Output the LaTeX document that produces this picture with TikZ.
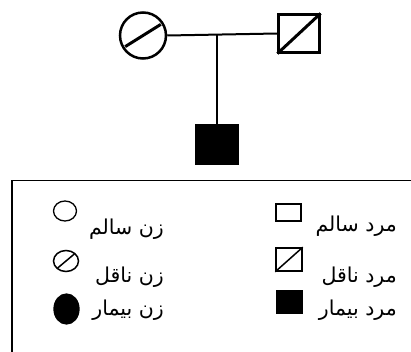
\documentclass[tikz,border=0pt]{standalone}
\usepackage{fontspec}
\usetikzlibrary{shapes.geometric,calc}
\newfontfamily\arabicfont[Script=Arabic]{DejaVu Sans}
\TeXXeTstate=1
\begin{document}
\begin{tikzpicture}[x=1pt,y=-1pt,
  pedline/.style={line width=2pt},
  female/.style={circle,draw,inner sep=0pt,minimum size=46pt,line width=2.5pt},
  male/.style={rectangle,draw,inner sep=0pt,minimum width=41pt,minimum height=38pt,line width=2.2pt},
  lfem/.style={ellipse,draw,inner sep=0pt,line width=1.3pt},
  lmale/.style={rectangle,draw,inner sep=0pt,line width=1.3pt},
  lab/.style={anchor=east,inner sep=0pt,font=\arabicfont\fontsize{20.5}{24}\selectfont},
]
\clip (0,0) rectangle (411,352);
\fill[white] (0,0) rectangle (411,352);
% pedigree
\node[female] (mother) at (143,35.5) {};
\draw[line width=3pt] ($(mother.center)+(148:21)$) -- ($(mother.center)+(328:21)$);
\node[male] (father) at (299,33.5) {};
\draw[line width=3pt] (father.south west) -- (father.north east);
\node[male,fill=black] (child) at (217,144.5) {};
\coordinate (mid) at (217,34.5);
\draw[pedline] (mother.east) -- (father.west);
\draw[pedline] (mid) -- (child.north);
% legend box
\node[draw,line width=1.5pt,rectangle,minimum width=420pt,minimum height=190pt,anchor=north west,inner sep=0pt] (box) at (11,180) {};
% female legend
\node[lfem,minimum width=23pt,minimum height=20pt] (fh) at (65,211) {};
\node[lfem,minimum width=25pt,minimum height=21pt,line width=1.5pt] (fc) at (66,261) {};
\draw[line width=1.5pt] ($(fc.center)+(140:11)$) -- ($(fc.center)+(320:11)$);
\node[lfem,fill=black,minimum width=25pt,minimum height=30pt] (fa) at (66.5,309) {};
\node[lab] (tfh) at (164,229) {\beginR زن سالم\endR};
\node[lab] (tfc) at (164,277) {\beginR زن ناقل\endR};
\node[lab] (tfa) at (164,310) {\beginR زن بیمار\endR};
% male legend
\node[lmale,minimum width=25pt,minimum height=17pt] (mh) at (288.5,212.5) {};
\node[lmale,minimum width=26pt,minimum height=23pt,line width=1.5pt] (mc) at (289,259.5) {};
\draw[line width=1.5pt] (mc.south west) -- (mc.north east);
\node[lmale,fill=black,minimum width=26pt,minimum height=23pt] (ma) at (289.5,302) {};
\node[lab] (tmh) at (397,226) {\beginR مرد سالم\endR};
\node[lab] (tmc) at (397,277) {\beginR مرد ناقل\endR};
\node[lab] (tma) at (397,310) {\beginR مرد بیمار\endR};
\end{tikzpicture}
\end{document}
